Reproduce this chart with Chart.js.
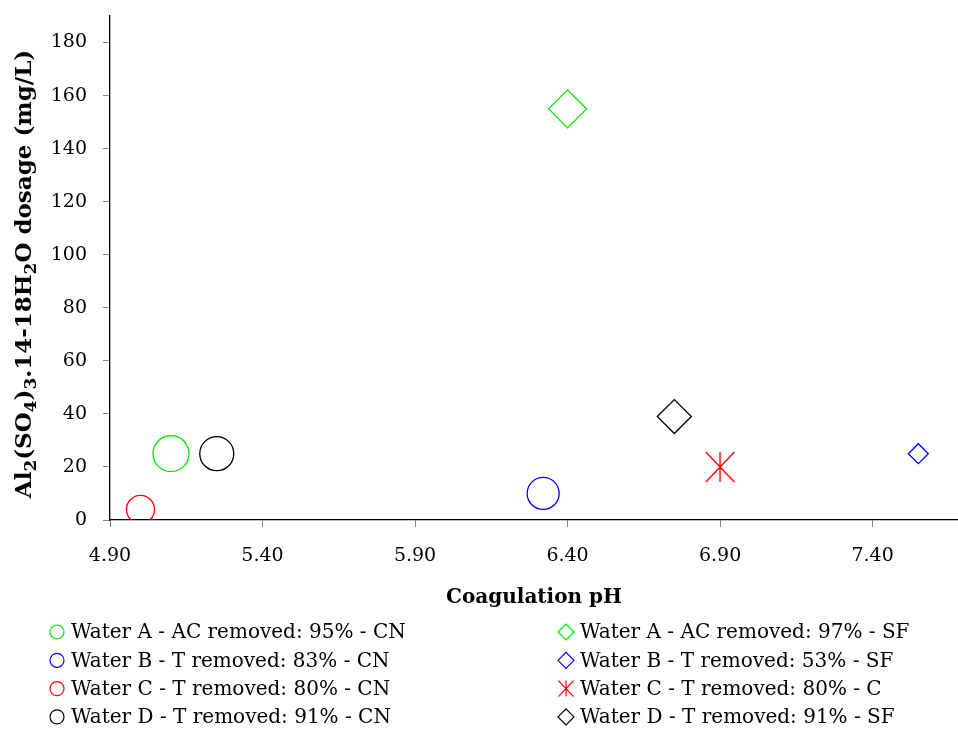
<!DOCTYPE html>
<html>
<head>
<meta charset="utf-8">
<script src="https://cdn.jsdelivr.net/npm/chart.js@4.4.1/dist/chart.umd.min.js"></script>
<style>
  html, body { margin: 0; padding: 0; background: #fff; }
  #wrap { width: 958px; height: 738px; position: relative; }
</style>
</head>
<body>
<div id="wrap"><canvas id="chart" width="958" height="738"></canvas></div>
<script>
// Series names, in legend order (left column first)
const seriesNames = [
    'Water A - AC removed: 95% - CN',
    'Water B - T removed: 83% - CN',
    'Water C - T removed: 80% - CN',
    'Water D - T removed: 91% - CN',
    'Water A - AC removed: 97% - SF',
    'Water B - T removed: 53% - SF',
    'Water C - T removed: 80% - C',
    'Water D - T removed: 91% - SF'
];
// Coagulation pH of each series (one point each)
const phValues = [5.10, 6.32, 5.00, 5.25, 6.40, 7.55, 6.90, 6.75];
// Al2(SO4)3 dosage (mg/L)
const dosageValues = [25, 10, 4, 25, 155, 25, 20, 39];
// Axis ticks
const xTicks = [4.90, 5.40, 5.90, 6.40, 6.90, 7.40];
const yTicks = [0, 20, 40, 60, 80, 100, 120, 140, 160, 180];

// Styling
const seriesColors = ['#00e600', '#0000ff', '#ff0000', '#000000', '#00e600', '#0000ff', '#ff0000', '#000000'];
const seriesShapes = ['circle', 'circle', 'circle', 'circle', 'rectRot', 'rectRot', 'asterisk', 'rectRot'];
const seriesSizes = [18, 16, 14, 17, 19, 10, 15, 17];
const FONT = '"DejaVu Serif", "Liberation Serif", serif';

// draw a marker outline by hand (used for asterisk image and the legend)
function drawMarker(ctx, shape, x, y, r, color, lw) {
    ctx.save();
    ctx.strokeStyle = color;
    ctx.lineWidth = lw;
    ctx.beginPath();
    if (shape === 'circle') {
        ctx.arc(x, y, r, 0, Math.PI * 2);
    } else if (shape === 'rectRot') {
        ctx.moveTo(x - r, y);
        ctx.lineTo(x, y - r);
        ctx.lineTo(x + r, y);
        ctx.lineTo(x, y + r);
        ctx.closePath();
    } else {
        const dx = r * 0.95;
        ctx.moveTo(x, y - r); ctx.lineTo(x, y + r);
        ctx.moveTo(x - dx, y - r); ctx.lineTo(x + dx, y + r);
        ctx.moveTo(x + dx, y - r); ctx.lineTo(x - dx, y + r);
    }
    ctx.stroke();
    ctx.restore();
}

function asteriskImage(r, color) {
    const c = document.createElement('canvas');
    c.width = 2 * r + 4;
    c.height = 2 * r + 4;
    drawMarker(c.getContext('2d'), 'asterisk', r + 2, r + 2, r, color, 1.4);
    return c;
}

const datasets = seriesNames.map((name, i) => ({
    label: name,
    data: [{ x: phValues[i], y: dosageValues[i] }],
    pointStyle: seriesShapes[i] === 'asterisk' ? asteriskImage(seriesSizes[i], seriesColors[i]) : seriesShapes[i],
    pointRadius: seriesSizes[i],
    pointHoverRadius: seriesSizes[i],
    borderColor: seriesColors[i],
    backgroundColor: 'rgba(0,0,0,0)',
    pointBorderWidth: 1.3
}));

// Legend in two columns below the axis title
const legendPlugin = {
    id: 'twoColLegend',
    afterDraw(chart) {
        const ctx = chart.ctx;
        ctx.save();
        ctx.font = '20px ' + FONT;
        ctx.fillStyle = '#000';
        ctx.textBaseline = 'middle';
        seriesNames.forEach((name, i) => {
            const col = Math.floor(i / 4);
            const row = i % 4;
            const mx = col === 0 ? 57 : 566;
            const y = 632 + row * 28.3;
            const r = seriesShapes[i] === 'circle' ? 7 : 8;
            drawMarker(ctx, seriesShapes[i], mx, y, r, seriesColors[i], 1.2);
            ctx.fillText(name, mx + 14, y + 1);
        });
        ctx.restore();
    }
};

// Y axis title with real subscripts
const yTitlePlugin = {
    id: 'yTitle',
    afterDraw(chart) {
        const parts = [['Al', 0], ['2', 1], ['(SO', 0], ['4', 1], [')', 0], ['3', 1],
                       ['.14-18H', 0], ['2', 1], ['O dosage (mg/L)', 0]];
        const ctx = chart.ctx;
        const big = 'bold 23px ' + FONT;
        const small = 'bold 17px ' + FONT;
        ctx.save();
        let total = 0;
        parts.forEach(p => { ctx.font = p[1] ? small : big; total += ctx.measureText(p[0]).width; });
        ctx.translate(25, 274);
        ctx.rotate(-Math.PI / 2);
        ctx.fillStyle = '#000';
        ctx.textBaseline = 'middle';
        let x = -total / 2;
        parts.forEach(p => {
            ctx.font = p[1] ? small : big;
            ctx.fillText(p[0], x, p[1] ? 7 : 0);
            x += ctx.measureText(p[0]).width;
        });
        ctx.restore();
    }
};

new Chart(document.getElementById('chart'), {
    type: 'scatter',
    data: { datasets: datasets },
    options: {
        responsive: false,
        animation: false,
        layout: { autoPadding: false, padding: { top: 16, right: 0, left: 0, bottom: 128 } },
        plugins: {
            legend: { display: false },
            tooltip: { enabled: false }
        },
        scales: {
            x: {
                type: 'linear',
                min: 4.9,
                max: 7.68,
                afterBuildTicks: scale => { scale.ticks = xTicks.map(v => ({ value: v })); },
                afterFit: scale => { scale.height = 90; scale.paddingRight = 0; scale.paddingLeft = 0; },
                grid: { drawOnChartArea: false, drawTicks: true, tickLength: 7, color: '#888' },
                border: { color: '#000', width: 1.3 },
                ticks: {
                    font: { family: FONT, size: 19 },
                    color: '#000',
                    padding: 18,
                    maxRotation: 0,
                    callback: v => Number(v).toFixed(2)
                },
                title: {
                    display: true,
                    text: 'Coagulation pH',
                    font: { family: FONT, size: 20, weight: 'bold' },
                    color: '#000',
                    padding: { top: 16, bottom: 0 }
                }
            },
            y: {
                type: 'linear',
                min: 0,
                max: 190,
                afterBuildTicks: scale => { scale.ticks = yTicks.map(v => ({ value: v })); },
                afterFit: scale => { scale.width = 110; scale.paddingTop = 0; scale.paddingBottom = 0; },
                grid: { drawOnChartArea: false, drawTicks: true, tickLength: 7, color: '#888' },
                border: { color: '#000', width: 1.3 },
                ticks: {
                    font: { family: FONT, size: 19 },
                    color: '#000',
                    padding: 16
                }
            }
        }
    },
    plugins: [legendPlugin, yTitlePlugin]
});
</script>
</body>
</html>
